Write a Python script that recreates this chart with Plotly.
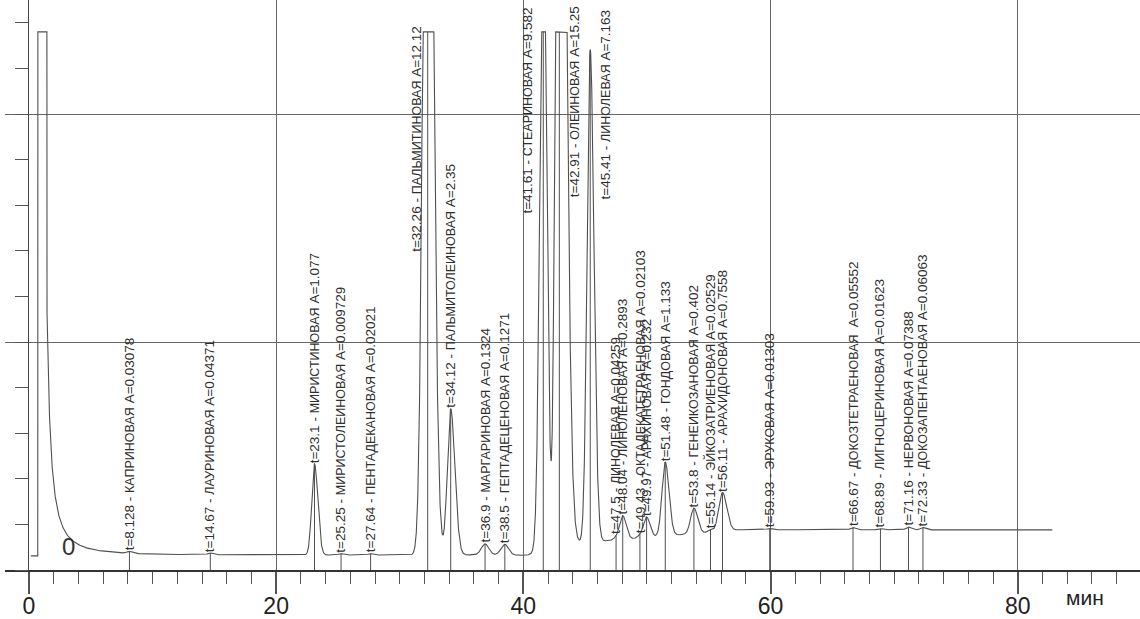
import numpy as np
import plotly.graph_objects as go

# ---------------- data ----------------
peak_time = [8.128, 14.67, 23.1, 25.25, 27.64, 32.26, 34.12, 36.9, 38.5,
             41.61, 42.91, 45.41, 47.5, 48.04, 49.43, 49.97, 51.48, 53.8,
             55.14, 56.11, 59.93, 66.67, 68.89, 71.16, 72.33]
peak_name = ["КАПРИНОВАЯ", "ЛАУРИНОВАЯ", "МИРИСТИНОВАЯ", "МИРИСТОЛЕИНОВАЯ",
             "ПЕНТАДЕКАНОВАЯ", "ПАЛЬМИТИНОВАЯ", "ПАЛЬМИТОЛЕИНОВАЯ",
             "МАРГАРИНОВАЯ", "ГЕПТАДЕЦЕНОВАЯ", "СТЕАРИНОВАЯ", "ОЛЕИНОВАЯ",
             "ЛИНОЛЕВАЯ", "ЛИНОЛЕВАЯ", "ЛИНОЛЕНОВАЯ", "ОКТАДЕКАТЕТРАЕНОВАЯ",
             "АРАХИНОВАЯ", "ГОНДОВАЯ", "ГЕНЕИКОЗАНОВАЯ", "ЭЙКОЗАТРИЕНОВАЯ",
             "АРАХИДОНОВАЯ", "ЭРУКОВАЯ", "ДОКОЗТЕТРАЕНОВАЯ ", "ЛИГНОЦЕРИНОВАЯ",
             "НЕРВОНОВАЯ", "ДОКОЗАПЕНТАЕНОВАЯ"]
peak_area = ["0.03078", "0.04371", "1.077", "0.009729", "0.02021", "12.12",
             "2.35", "0.1324", "0.1271", "9.582", "15.25", "7.163", "0.04259",
             "0.2893", "0.02103", "0.232", "1.133", "0.402", "0.02529",
             "0.7558", "0.01303", "0.05552", "0.01623", "0.07388", "0.06063"]
# peak heights above baseline (detector units) and left/right widths (min)
peak_height = [0.04, 0.04, 2.0, 0.03, 0.03, 25.0, 3.2, 0.24, 0.23,
               14.0, 30.0, 10.8, 0.05, 0.52, 0.05, 0.45, 1.62, 0.56,
               0.05, 0.85, 0.03, 0.05, 0.03, 0.06, 0.05]
sig_left = [0.2, 0.2, 0.22, 0.2, 0.2, 0.33, 0.27, 0.3, 0.3,
            0.27, 0.25, 0.25, 0.2, 0.25, 0.2, 0.25, 0.26, 0.27,
            0.2, 0.3, 0.2, 0.2, 0.2, 0.2, 0.2]
sig_right = [0.2, 0.2, 0.27, 0.2, 0.2, 0.40, 0.34, 0.3, 0.3,
             0.28, 0.45, 0.30, 0.2, 0.28, 0.2, 0.28, 0.30, 0.30,
             0.2, 0.35, 0.2, 0.2, 0.2, 0.2, 0.2]
# drifting baseline (min, units)
base_t = [0.0, 38.5, 40.2, 44.6, 55.3, 57.5, 83.0]
base_v = [0.31, 0.33, 0.32, 0.59, 0.83, 0.88, 0.88]
# solvent peak
solvent_start, solvent_end = 0.72, 1.46
solvent_tail_amp, solvent_tail_t0, solvent_tail_pow = 4.7, 0.9, 1.8
run_start, run_end = 0.15, 82.8
clip_level = 11.8

x_ticks_major = 20
x_ticks_minor = 2

# ---------------- build the detector trace ----------------
t = np.arange(run_start, run_end, 0.01)
signal = np.interp(t, base_t, base_v)
sol = np.where(t < solvent_start, 0.0,
               np.where(t <= solvent_end, 60.0,
                        solvent_tail_amp * (0.6 / np.maximum(t - solvent_tail_t0, 1e-3)) ** solvent_tail_pow))
signal = signal + sol
for tc, h, sl, sr in zip(peak_time, peak_height, sig_left, sig_right):
    s = np.where(t < tc, sl, sr)
    signal = signal + h * np.exp(-0.5 * ((t - tc) / s) ** 2)
signal = np.minimum(signal, clip_level)

apex = [float(np.interp(tc, t, signal)) for tc in peak_time]

fig = go.Figure()
fig.add_trace(go.Scatter(x=t, y=signal, mode="lines",
                         line=dict(color="#505050", width=1.1),
                         hoverinfo="skip"))

# vertical peak markers
lx, ly = [], []
for tc, a in zip(peak_time, apex):
    lx += [tc, tc, None]
    ly += [0, a, None]
fig.add_trace(go.Scatter(x=lx, y=ly, mode="lines",
                         line=dict(color="#505050", width=1),
                         hoverinfo="skip"))

# label placement (style)
label_fixed_y = {32.26: 6.95, 41.61: 7.8, 42.91: 8.15, 45.41: 8.1}
label_xshift = {32.26: -12, 41.61: -16, 42.91: 16, 45.41: 15}

ann = []
for tc, nm, ar, a in zip(peak_time, peak_name, peak_area, apex):
    yb = label_fixed_y.get(tc, a)
    ann.append(dict(x=tc, y=yb, xref="x", yref="y",
                    text=f"t={tc:g} - <span style='font-size:12.5px'>{nm}</span> A={ar}",
                    showarrow=False,
                    textangle=-90, xanchor="center", yanchor="bottom",
                    xshift=label_xshift.get(tc, 0), yshift=-1,
                    font=dict(family="Liberation Sans, Arial", size=13.5, color="#2e2e2e")))
ann.append(dict(x=3.16, y=0.52, xref="x", yref="y", text="0", showarrow=False,
                font=dict(family="Liberation Sans, Arial", size=24, color="#333333")))
ann.append(dict(x=85.4, y=-27 / 570, xref="x", yref="paper", text="мин", showarrow=False,
                xanchor="center", yanchor="middle",
                font=dict(family="Liberation Sans, Arial", size=21, color="#222222")))

fig.update_layout(
    width=1140, height=619,
    margin=dict(l=5, r=0, t=0, b=49, autoexpand=False),
    paper_bgcolor="white", plot_bgcolor="white",
    showlegend=False,
    annotations=ann,
    xaxis=dict(range=[-1.94, 89.89], tick0=0, dtick=x_ticks_major, automargin=False,
               ticks="outside", ticklen=22, tickwidth=1.5, tickcolor="#555555",
               ticklabelstandoff=-8,
               showline=True, linewidth=2, linecolor="#333333",
               showgrid=True, gridcolor="#666666", gridwidth=1.2,
               zeroline=False,
               tickfont=dict(family="Liberation Sans, Arial", size=23, color="#222222"),
               minor=dict(tick0=0, dtick=x_ticks_minor, ticks="outside", ticklen=12,
                          tickwidth=1.3, tickcolor="#555555", showgrid=False)),
    yaxis=dict(range=[0, 12.5], anchor="free", position=23 / 1135, automargin=False,
               dtick=5, ticks="outside", ticklen=13, tickwidth=1.2, tickcolor="#555555",
               showgrid=True, gridcolor="#666666", gridwidth=1.2,
               showticklabels=False, showline=True, linecolor="#444444", linewidth=1.2,
               zeroline=False,
               minor=dict(dtick=1, ticks="outside", ticklen=13, tickwidth=1.2,
                          tickcolor="#555555", showgrid=False)),
)

fig.write_html("out.html", config={"displayModeBar": False},
               post_script="document.body.style.margin='0px';document.body.style.overflow='hidden';")
